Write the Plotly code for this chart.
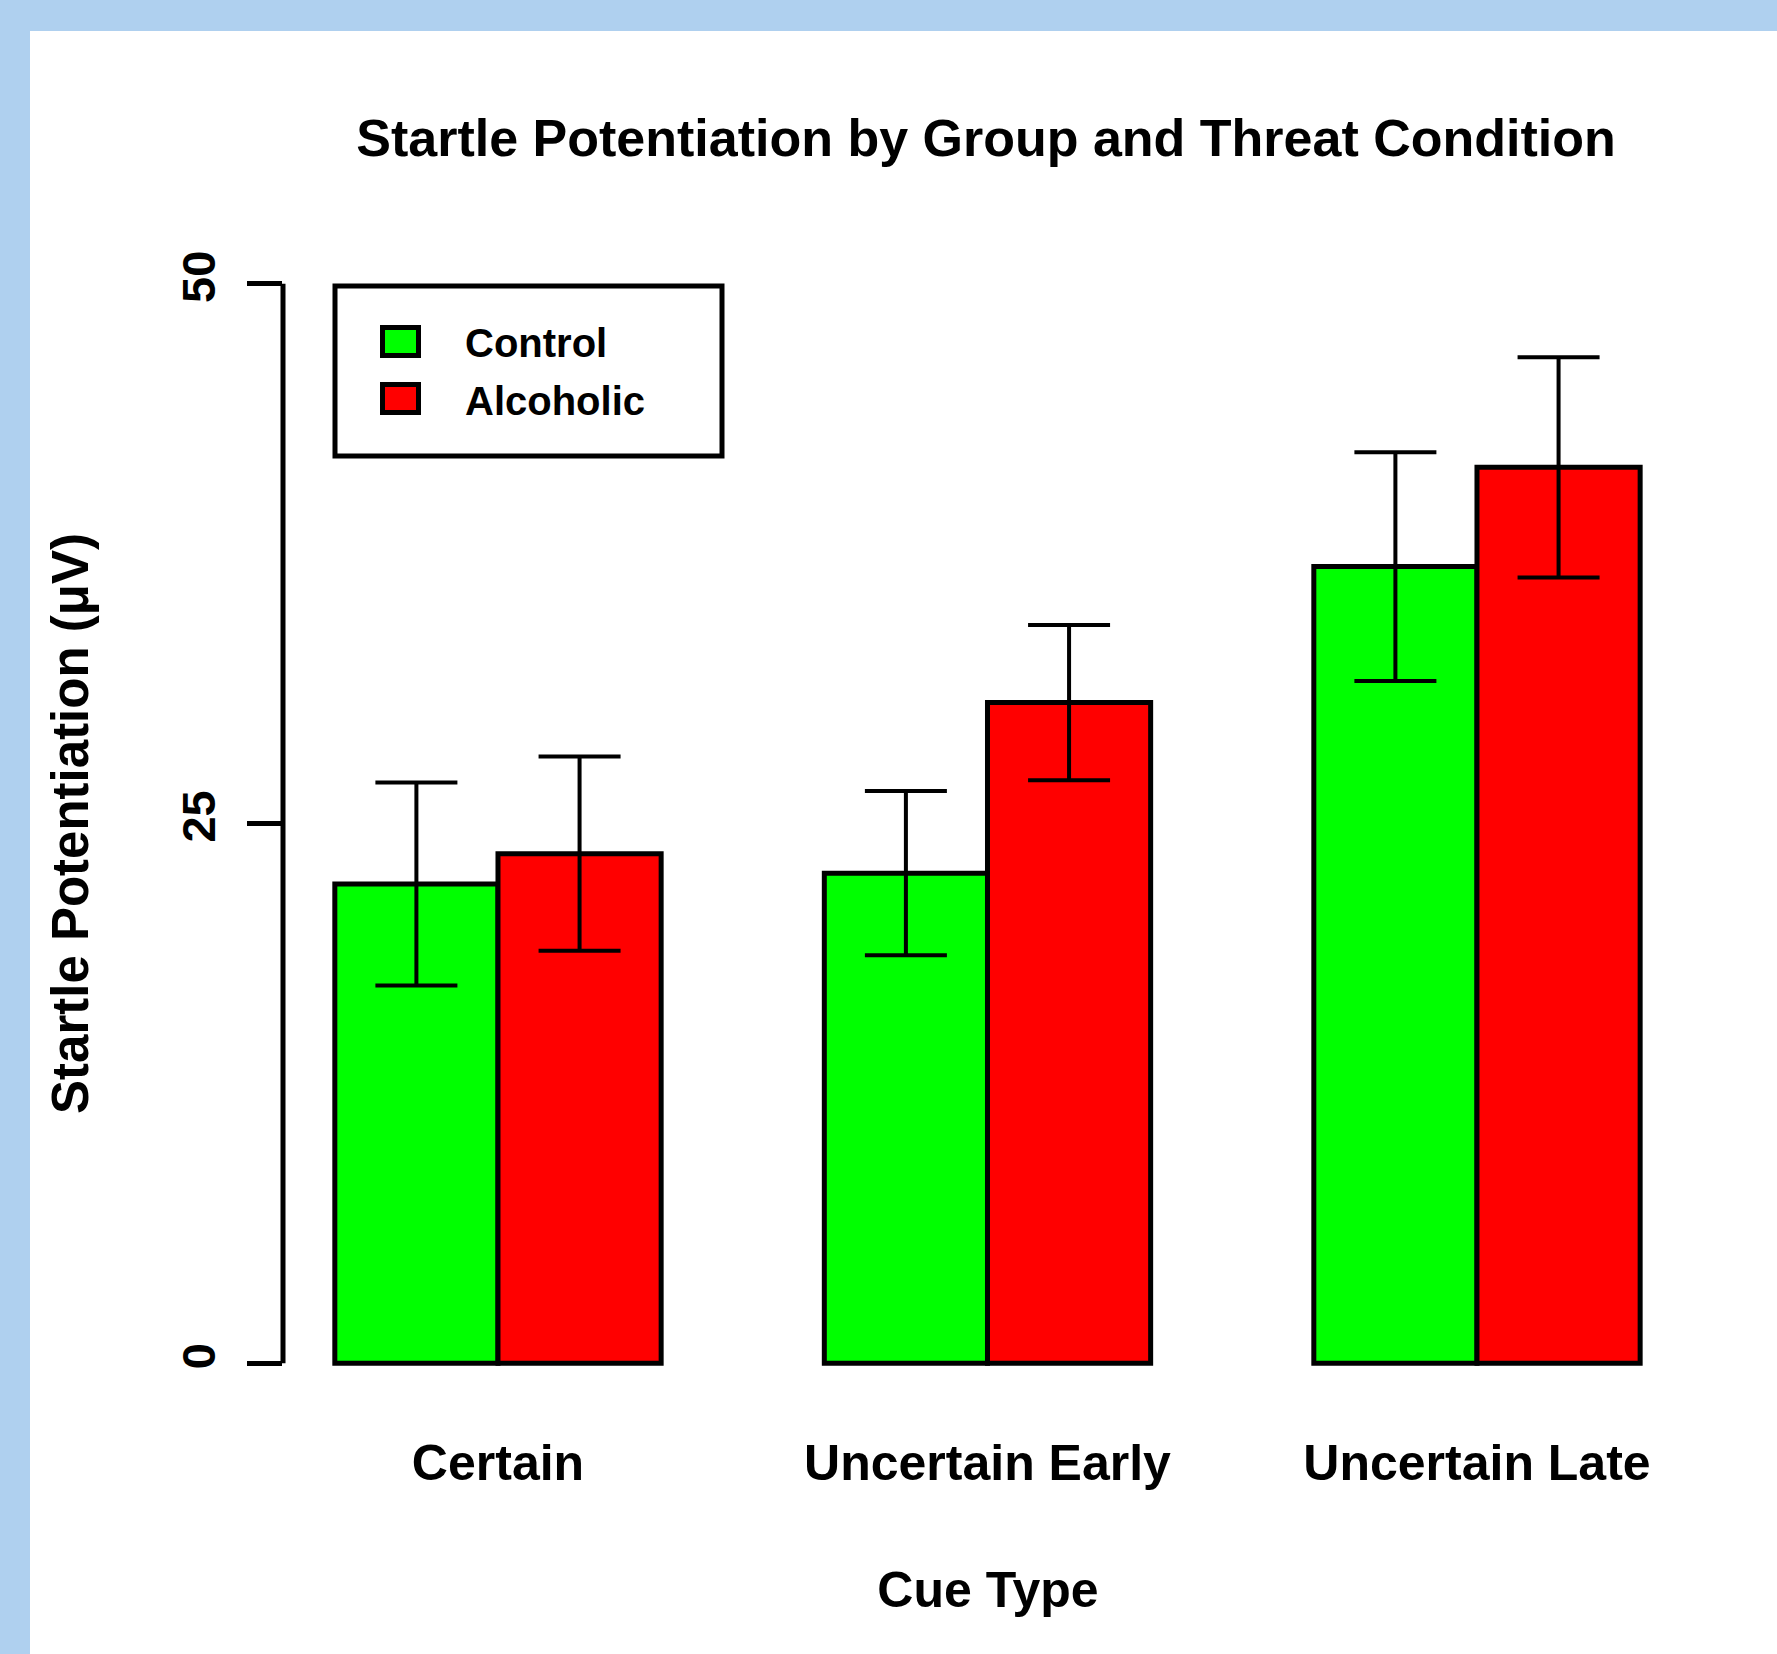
import plotly.graph_objects as go

# ---- data ----
categories = ["Certain", "Uncertain Early", "Uncertain Late"]
groups = ["Control", "Alcoholic"]
control_mean = [22.2, 22.7, 36.9]
control_se = [4.7, 3.8, 5.3]
alcoholic_mean = [23.6, 30.6, 41.5]
alcoholic_se = [4.5, 3.6, 5.1]
y_ticks = [0, 25, 50]
colors = ["#00FF00", "#FF0000"]

# ---- layout geometry (pixels) ----
W, H = 1777, 1654
L, R, T, B = 283, 84, 273, 280
PW = W - L - R
PH = H - T - B


def px(x):
    return (x - L) / PW


def py(y):
    return (H - B - y) / PH


FONT = "Liberation Sans, Arial, sans-serif"

fig = go.Figure()
for name, mean, se, col in zip(groups, [control_mean, alcoholic_mean],
                               [control_se, alcoholic_se], colors):
    fig.add_trace(go.Bar(
        x=categories, y=mean, name=name,
        marker=dict(color=col, line=dict(color="black", width=5)),
        error_y=dict(type="data", array=se, visible=True, color="black",
                     thickness=4, width=41),
        showlegend=False,
    ))

shapes = []
# white panel over blue frame
shapes.append(dict(type="rect", xref="paper", yref="paper",
                   x0=px(30), x1=px(1850), y0=py(31), y1=py(1750),
                   fillcolor="white", line=dict(width=0), layer="below"))
# y axis line from 0 to 50
shapes.append(dict(type="line", xref="paper", yref="y",
                   x0=0, x1=0, y0=y_ticks[0], y1=y_ticks[-1],
                   line=dict(color="black", width=5)))
# legend box
shapes.append(dict(type="rect", xref="paper", yref="paper",
                   x0=px(335), x1=px(722), y0=py(286), y1=py(456),
                   fillcolor="rgba(0,0,0,0)", line=dict(color="black", width=5)))
# legend keys
key_rows = [341.5, 398.5]
for cy, col in zip(key_rows, colors):
    shapes.append(dict(type="rect", xref="paper", yref="paper",
                       x0=px(382.5), x1=px(418.5), y0=py(cy - 14), y1=py(cy + 14),
                       fillcolor=col, line=dict(color="black", width=5)))

annotations = []
text_rows = [343, 401]
for ty, name in zip(text_rows, groups):
    annotations.append(dict(xref="paper", yref="paper", x=px(463), y=py(ty),
                            xanchor="left", yanchor="middle", showarrow=False,
                            text=name, font=dict(size=40, family=FONT,
                                                 weight="bold", color="black")))

fig.update_layout(
    width=W, height=H,
    margin=dict(l=L, r=R, t=T, b=B, autoexpand=False),
    paper_bgcolor="#AFD0EF",
    plot_bgcolor="rgba(0,0,0,0)",
    font=dict(family=FONT, color="black", weight="bold"),
    barmode="group", bargap=1/3, bargroupgap=0,
    title=dict(text="Startle Potentiation by Group and Threat Condition",
               x=986 / W, y=1 - 138 / H, xref="container", yref="container",
               xanchor="center", yanchor="middle",
               font=dict(size=52, family=FONT, weight="bold", color="black")),
    xaxis=dict(range=[-0.4392, 2.4413], showline=False, showgrid=False,
               zeroline=False, ticks="", tickfont=dict(size=50),
               ticklabelstandoff=55,
               title=dict(text="Cue Type", font=dict(size=50), standoff=81)),
    yaxis=dict(range=[-0.5, 50.5], tickvals=y_ticks, ticks="outside",
               ticklen=35, tickwidth=5, tickcolor="black",
               showline=False, showgrid=False, zeroline=False,
               tickangle=-90, tickfont=dict(size=47), ticklabelstandoff=13,
               title=dict(text="Startle Potentiation (μV)", font=dict(size=51),
                          standoff=67)),
    shapes=shapes,
    annotations=annotations,
)

fig.write_html("out.html", config={"displayModeBar": False},
               post_script="document.body.style.margin='0';document.body.style.overflow='hidden';")
